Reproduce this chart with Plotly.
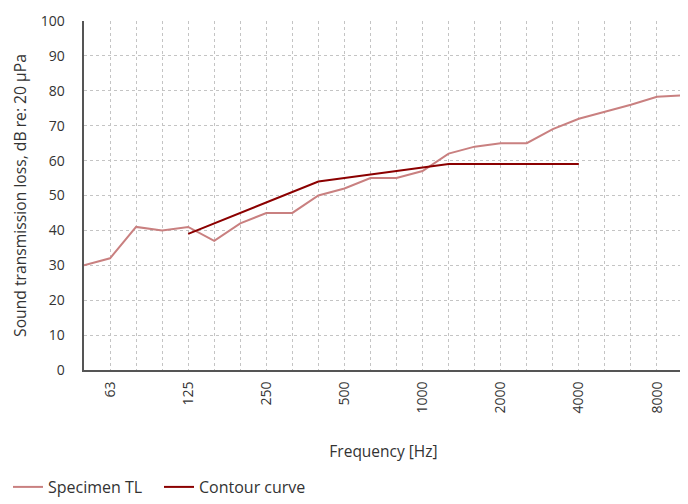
import plotly.graph_objects as go

bands = ["50", "63", "80", "100", "125", "160", "200", "250", "315", "400", "500", "630",
         "800", "1000", "1250", "1600", "2000", "2500", "3150", "4000", "5000", "6300", "8000", "10000"]
tick_labels = ["", "63", "", "", "125", "", "", "250", "", "", "500", "",
               "", "1000", "", "", "2000", "", "", "4000", "", "", "8000", ""]
specimen_tl = [30, 32, 41, 40, 41, 37, 42, 45, 45, 50, 52, 55,
               55, 57, 62, 64, 65, 65, 69, 72, 74, 76, 78.3, 78.7]
contour_bands = ["125", "160", "200", "250", "315", "400", "500", "630", "800", "1000",
                 "1250", "1600", "2000", "2500", "3150", "4000"]
contour_vals = [39, 42, 45, 48, 51, 54, 55, 56, 57, 58, 59, 59, 59, 59, 59, 59]

font_fam = "'Open Sans', Lato, sans-serif"
fig = go.Figure()
fig.add_trace(go.Scatter(x=bands, y=specimen_tl, mode="lines", name="Specimen TL",
                         line=dict(color="#c98080", width=2)))
fig.add_trace(go.Scatter(x=contour_bands, y=contour_vals, mode="lines", name="Contour curve",
                         line=dict(color="#8b0000", width=2)))

# page body has an 8px margin, so the figure is sized/offset to compensate
fig.update_layout(
    width=680, height=496,
    margin=dict(l=76, r=5, t=13, b=134),
    paper_bgcolor="white", plot_bgcolor="white",
    font=dict(family=font_fam, size=14, color="#333333"),
    showlegend=True,
    legend=dict(orientation="h", xref="container", yref="container", x=0.0, y=0.0,
                xanchor="left", yanchor="bottom", font=dict(family=font_fam, size=16),
                itemwidth=30, entrywidth=106, tracegroupgap=0),
    xaxis=dict(type="category", categoryorder="array", categoryarray=bands, automargin=False,
               range=[0, len(bands) - 1], tickmode="array", tickvals=bands, ticktext=tick_labels,
               tickangle=-90, showgrid=True, gridcolor="#c4c4c4", griddash="3px,3px", gridwidth=1,
               showline=True, linecolor="#555555", linewidth=2, ticks="", ticklabelstandoff=4,
               title=dict(text="Frequency [Hz]", standoff=34, font=dict(family=font_fam, size=15.5)),
               tickfont=dict(size=14)),
    yaxis=dict(range=[0, 100], dtick=10, showgrid=True, gridcolor="#c4c4c4", griddash="3px,3px",
               gridwidth=1, showline=True, linecolor="#555555", linewidth=2, ticks="",
               zeroline=False, ticksuffix="    ", automargin=False,
               title=dict(text="Sound transmission loss, dB re: 20 µPa", standoff=10,
                          font=dict(family=font_fam, size=15.7)),
               tickfont=dict(size=14)),
)
fig.write_html("out.html")
